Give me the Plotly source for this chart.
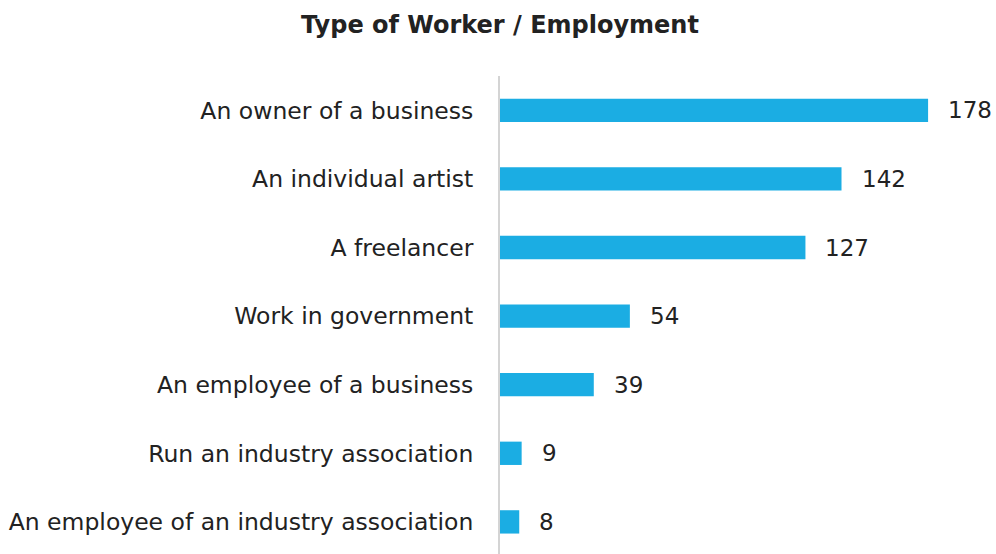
import plotly.graph_objects as go

# Survey counts by type of worker / employment
categories = [
    "An owner of a business",
    "An individual artist",
    "A freelancer",
    "Work in government",
    "An employee of a business",
    "Run an industry association",
    "An employee of an industry association",
]
counts = [178, 142, 127, 54, 39, 9, 8]

BAR_COLOR = "#1bade3"
TEXT_COLOR = "#222222"
FONT = "DejaVu Sans"

fig = go.Figure(
    go.Bar(
        x=counts,
        y=categories,
        orientation="h",
        marker=dict(color=BAR_COLOR, line=dict(width=0)),
        width=0.34,
        hoverinfo="x+y",
    )
)

# value labels to the right of each bar
for cat, val in zip(categories, counts):
    fig.add_annotation(
        x=val, y=cat, text=str(val), showarrow=False,
        xanchor="left", xshift=18,
        font=dict(family=FONT, size=23, color=TEXT_COLOR),
    )

fig.update_layout(
    width=996, height=554,
    margin=dict(l=500, r=15, t=76, b=0),
    paper_bgcolor="white", plot_bgcolor="white",
    showlegend=False,
    title=dict(
        text="<b>Type of Worker / Employment</b>",
        x=0.502, xanchor="center", y=0.955, yanchor="middle",
        font=dict(family=FONT, size=24, color=TEXT_COLOR),
    ),
    xaxis=dict(
        range=[0, 200], visible=False, showgrid=False, zeroline=False,
    ),
    yaxis=dict(
        type="category",
        range=[6.468, -0.5],
        showgrid=False, zeroline=False,
        showline=True, linecolor="#d4d4d4", linewidth=2,
        ticks="", ticklabelstandoff=20,
        tickfont=dict(family=FONT, size=23.5, color=TEXT_COLOR),
    ),
)

fig.write_html("out.html")
